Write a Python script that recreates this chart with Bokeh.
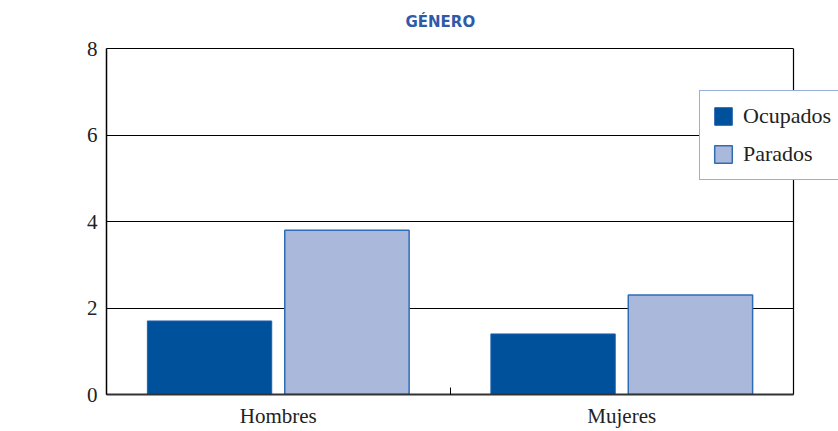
from bokeh.plotting import figure
from bokeh.models import (ColumnDataSource, FixedTicker, Range1d, Legend, LegendItem,
                          Title, Span, LinearAxis)
from bokeh.embed import file_html
from bokeh.resources import INLINE

categories = ["Hombres", "Mujeres"]
ocupados = [1.7, 1.4]
parados = [3.8, 2.3]
y_ticks = [0, 2, 4, 6, 8]
title_text = "GÉNERO"

n = len(categories)
centers = [i + 0.5 for i in range(n)]
src_o = ColumnDataSource(dict(x=[c - 0.2 for c in centers], top=ocupados))
src_p = ColumnDataSource(dict(x=[c + 0.2 for c in centers], top=parados))

# frame extends to the canvas edge so the legend can overhang the plot box
frame_w = 838 - 106
box_w = 793 - 106
p = figure(width=838, height=431, output_backend="svg", toolbar_location=None,
           x_range=Range1d(0, n * frame_w / box_w), y_range=Range1d(0, 8),
           min_border_left=106, min_border_right=0, min_border_top=48,
           min_border_bottom=37)
p.title = Title(text=title_text, align="left", text_font="DejaVu Sans",
                text_font_style="bold", text_font_size="15px",
                text_color="#2f5aa8", offset=299, standoff=12)

r_o = p.vbar(x="x", top="top", width=0.362, source=src_o,
             fill_color="#00519c", line_color="#1f5fae", line_width=1)
r_p = p.vbar(x="x", top="top", width=0.362, source=src_p,
             fill_color="#aab8db", line_color="#2e6db4", line_width=1.5)

p.xaxis.ticker = FixedTicker(ticks=centers, minor_ticks=list(range(n + 1)))
p.xaxis.bounds = (0, n)
p.xaxis.major_label_overrides = {c: lab for c, lab in zip(centers, categories)}
p.xaxis.major_tick_in = 0
p.xaxis.major_tick_out = 0
p.xaxis.minor_tick_in = 7
p.xaxis.minor_tick_out = 0
p.xaxis.minor_tick_line_color = "black"
p.xaxis.axis_line_width = 2
p.xaxis.axis_line_color = "#333333"
p.xaxis.major_label_text_font = "Liberation Serif"
p.xaxis.major_label_text_font_size = "21px"
p.xaxis.major_label_text_color = "#222222"
p.xaxis.major_label_standoff = 9

# plain top border of the plot box (blank axis label adds space under the title)
top_axis = LinearAxis(bounds=(0, n), ticker=FixedTicker(ticks=[]),
                      major_tick_in=0, major_tick_out=0, minor_tick_in=0, minor_tick_out=0,
                      major_label_text_font_size="0px", major_label_standoff=0,
                      axis_label=" ", axis_label_text_font_size="8px",
                      axis_label_standoff=0,
                      axis_line_color="black", axis_line_width=1.2)
p.add_layout(top_axis, "above")

p.yaxis.ticker = FixedTicker(ticks=y_ticks)
p.yaxis.major_tick_in = 0
p.yaxis.major_tick_out = 0
p.yaxis.minor_tick_in = 0
p.yaxis.minor_tick_out = 0
p.yaxis.axis_line_width = 1.5
p.yaxis.axis_line_color = "black"
p.yaxis.major_label_text_font = "Liberation Serif"
p.yaxis.major_label_text_font_size = "21px"
p.yaxis.major_label_text_color = "#222222"
p.yaxis.major_label_standoff = 9

p.xgrid.visible = False
p.ygrid.ticker = FixedTicker(ticks=y_ticks)
p.ygrid.cross_bounds = (0, n)
p.ygrid.grid_line_color = "black"
p.ygrid.grid_line_width = 1.2
p.outline_line_color = None
p.add_layout(Span(location=n, dimension="height", line_color="black", line_width=1.2))

legend = Legend(items=[LegendItem(label="Ocupados", renderers=[r_o]),
                       LegendItem(label="Parados", renderers=[r_p])],
                location=(593, 214), orientation="vertical",
                glyph_width=22, glyph_height=22, label_height=22,
                label_standoff=9, spacing=12, padding=12, margin=0,
                label_text_font="Liberation Serif", label_text_font_size="22px",
                label_text_color="#222222",
                border_line_color="#2f5fb0", border_line_width=1.5,
                background_fill_color="white", background_fill_alpha=1)
p.add_layout(legend, "center")

open("out.html", "w").write(file_html(p, INLINE))
